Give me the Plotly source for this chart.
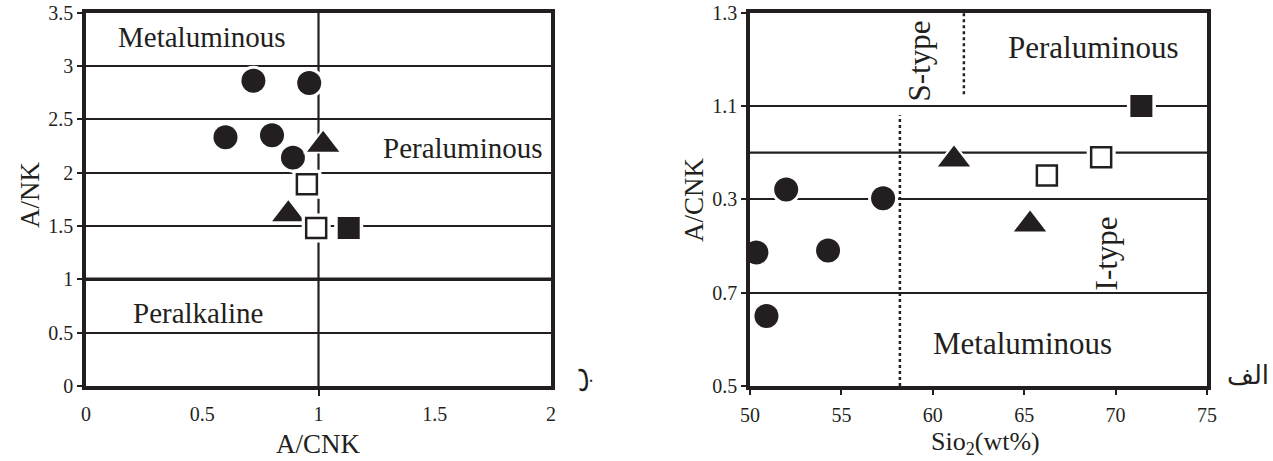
import plotly.graph_objects as go

# ---------------- data: left panel (A/CNK vs A/NK) ----------------
L_circle_x = [0.72, 0.96, 0.60, 0.80, 0.89]
L_circle_y = [2.86, 2.84, 2.33, 2.35, 2.14]
L_tri_x = [1.02, 0.87]
L_tri_y = [2.26, 1.61]
L_osq_x = [0.95, 0.99]
L_osq_y = [1.89, 1.48]
L_fsq_x = [1.13]
L_fsq_y = [1.48]
L_yticks = [0, 0.5, 1, 1.5, 2, 2.5, 3, 3.5]
L_yticktext = ["0", "0.5", "1", "1.5", "2", "2.5", "3", "3.5"]
L_xticks = [0, 0.5, 1, 1.5, 2]
L_xticktext = ["0", "0.5", "1", "1.5", "2"]
L_vline_x = [1.0]

# ---------------- data: right panel (SiO2 vs A/CNK) ----------------
R_circle_x = [51.98, 57.28, 50.35, 54.27, 50.90]
R_circle_y = [0.921, 0.902, 0.786, 0.790, 0.650]
R_tri_x = [61.16, 65.32]
R_tri_y = [0.985, 0.846]
R_osq_x = [66.24, 69.21]
R_osq_y = [0.951, 0.990]
R_fsq_x = [71.41]
R_fsq_y = [1.10]
R_xticks = [50, 55, 60, 65, 70, 75]
R_yticks = [0.5, 0.7, 0.9, 1.1, 1.3]
R_yticktext = ["0.5", "0.7", "0.3", "1.1", "1.3"]
R_extra_hline = [1.0]
R_dot1_x, R_dot1_y = 58.2, [0.5, 1.08]
R_dot2_x, R_dot2_y = 61.7, [1.125, 1.3]

INK = "#231f20"
SERIF = "Liberation Serif, Times New Roman, serif"
W, H = 1273, 461

fig = go.Figure()


def add_points(xs, ys, symbol, size, halo, fill, xa, ya, line_w=0):
    fig.add_trace(go.Scatter(x=xs, y=ys, mode="markers", xaxis=xa, yaxis=ya,
                             marker=dict(symbol=symbol, size=halo, color="white",
                                         line=dict(width=0)),
                             hoverinfo="skip", showlegend=False))
    fig.add_trace(go.Scatter(x=xs, y=ys, mode="markers", xaxis=xa, yaxis=ya,
                             marker=dict(symbol=symbol, size=size, color=fill,
                                         line=dict(width=line_w, color=INK)),
                             showlegend=False))


# left panel markers
add_points(L_circle_x, L_circle_y, "circle", 24, 30, INK, "x", "y")
add_points(L_tri_x, L_tri_y, "triangle-up", 28, 35, INK, "x", "y")
add_points(L_osq_x, L_osq_y, "square", 20, 29, "white", "x", "y", line_w=2.5)
add_points(L_fsq_x, L_fsq_y, "square", 22, 29, INK, "x", "y")

# right panel markers
add_points(R_circle_x, R_circle_y, "circle", 24, 30, INK, "x2", "y2")
add_points(R_tri_x, R_tri_y, "triangle-up", 28, 35, INK, "x2", "y2")
add_points(R_osq_x, R_osq_y, "square", 20, 29, "white", "x2", "y2", line_w=2.5)
add_points(R_fsq_x, R_fsq_y, "square", 22, 29, INK, "x2", "y2")

shapes = []
# left: vertical boundary A/CNK = 1, thick A/NK = 1
for xv in L_vline_x:
    shapes.append(dict(type="line", xref="x", yref="y", x0=xv, x1=xv, y0=0, y1=3.5,
                       line=dict(color=INK, width=2.2), layer="below"))
shapes.append(dict(type="line", xref="x", yref="y", x0=0, x1=2, y0=1, y1=1,
                   line=dict(color=INK, width=3.5), layer="below"))
# right: extra line at 1.0 and dotted boundaries
for yv in R_extra_hline:
    shapes.append(dict(type="line", xref="x2", yref="y2", x0=50, x1=75, y0=yv, y1=yv,
                       line=dict(color=INK, width=2.2), layer="below"))
shapes.append(dict(type="line", xref="x2", yref="y2", x0=R_dot1_x, x1=R_dot1_x,
                   y0=R_dot1_y[0], y1=R_dot1_y[1],
                   line=dict(color=INK, width=2.5, dash="dot"), layer="below"))
shapes.append(dict(type="line", xref="x2", yref="y2", x0=R_dot2_x, x1=R_dot2_x,
                   y0=R_dot2_y[0], y1=R_dot2_y[1],
                   line=dict(color=INK, width=2.5, dash="dot"), layer="below"))

ann = []


def text(x, y, s, size, xref, yref, angle=0, family=SERIF):
    ann.append(dict(x=x, y=y, xref=xref, yref=yref, text=s, showarrow=False,
                    textangle=angle, font=dict(family=family, size=size, color=INK),
                    xanchor="center", yanchor="middle"))


# region labels left
text(0.50, 3.27, "Metaluminous", 29, "x", "y")
text(1.62, 2.23, "Peraluminous", 29, "x", "y")
text(0.48, 0.68, "Peralkaline", 29, "x", "y")
# region labels right
text(68.8, 1.225, "Peraluminous", 31, "x2", "y2")
text(64.9, 0.590, "Metaluminous", 31, "x2", "y2")
text(59.3, 1.195, "S-type", 31, "x2", "y2", angle=-90)
text(69.5, 0.785, "I-type", 31, "x2", "y2", angle=-90)

# axis titles
text(30 / W, 1 - 195 / H, "A/NK", 27, "paper", "paper", angle=-90)
text(318 / W, 1 - 444 / H, "A/CNK", 27, "paper", "paper")
text(694 / W, 1 - 200 / H, "A/CNK", 27, "paper", "paper", angle=-90)
text(985 / W, 1 - 443 / H, "Sio<sub>2</sub>(wt%)", 26, "paper", "paper")
# panel letters
text(578 / W, 1 - 380 / H, "ب", 28, "paper", "paper", angle=-90, family="DejaVu Sans")
text(1248 / W, 1 - 375 / H, "الف", 26, "paper", "paper", family="DejaVu Sans")

ydom = [1 - 386 / H, 1 - 12.5 / H]
common = dict(showline=True, mirror=True, linewidth=3.5, linecolor=INK,
              zeroline=False, layer="below traces", automargin=False,
              tickfont=dict(family=SERIF, size=20, color=INK))

fig.update_layout(
    width=W, height=H, margin=dict(l=0, r=0, t=0, b=0, pad=0, autoexpand=False),
    paper_bgcolor="white", plot_bgcolor="white",
    shapes=shapes, annotations=ann,
    xaxis=dict(domain=[86 / W, 551 / W], range=[0, 2], tickmode="array",
               tickvals=L_xticks, ticktext=L_xticktext, showgrid=False,
               ticks="", ticklabelstandoff=7, anchor="y",
               minor=dict(tickmode="array", tickvals=L_vline_x, ticks="outside",
                          ticklen=6, tickwidth=2, tickcolor=INK, showgrid=False),
               **common),
    yaxis=dict(domain=ydom, range=[0, 3.5], tickmode="array", tickvals=L_yticks,
               ticktext=L_yticktext, showgrid=True, gridcolor=INK, gridwidth=2.2,
               ticks="outside", ticklen=5, tickwidth=2, tickcolor=INK,
               anchor="x", **common),
    xaxis2=dict(domain=[750 / W, 1207 / W], range=[50, 75], tickmode="array",
                tickvals=R_xticks, showgrid=False, ticks="outside", ticklen=5,
                tickwidth=2, tickcolor=INK, ticklabelstandoff=3, anchor="y2",
                **common),
    yaxis2=dict(domain=ydom, range=[0.5, 1.3], tickmode="array", tickvals=R_yticks,
                ticktext=R_yticktext, showgrid=True, gridcolor=INK, gridwidth=2.2,
                ticks="outside", ticklen=5, tickwidth=2, tickcolor=INK,
                anchor="x2", **common),
)

fig.write_html("out.html", config={"displayModeBar": False},
               post_script="document.body.style.margin='0';document.body.style.overflow='hidden';")
